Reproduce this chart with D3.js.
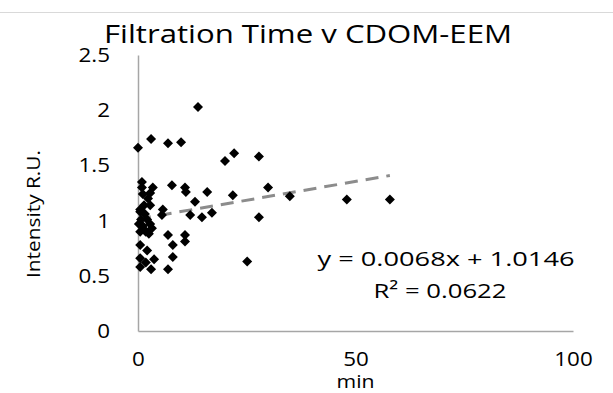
<!DOCTYPE html>
<html><head><meta charset="utf-8">
<script src="https://cdn.jsdelivr.net/npm/d3@7"></script>
<style>body{margin:0;background:#fff}svg{display:block}text{font-family:"Open Sans",sans-serif;fill:#000}</style>
</head><body>
<script>
const title = "Filtration Time v CDOM-EEM";
const xLabel = "min";
const yLabel = "Intensity R.U.";
const xTicks = [0, 50, 100];
const yTicks = [0, 0.5, 1, 1.5, 2, 2.5];
const minutes = [13.8,0.0,3.0,6.9,9.9,20.0,22.1,27.8,0.9,0.9,3.4,2.8,7.8,10.8,11.0,15.9,13.1,21.8,29.9,34.9,48.0,57.9,27.8,25.1,2.8,0.5,5.7,5.5,12.0,14.7,17.0,1.1,6.9,10.8,10.8,8.0,0.5,2.1,8.0,0.5,3.7,1.8,0.5,3.0,6.9,1.8,0.5,1.6,0.7,2.1,0.2,1.1,2.8,1.6,0.5,2.5,3.2,1.4,2.3];
const intensity = [2.03,1.66,1.74,1.70,1.71,1.54,1.61,1.58,1.35,1.30,1.30,1.25,1.32,1.30,1.26,1.26,1.17,1.23,1.30,1.22,1.19,1.19,1.03,0.63,1.14,1.10,1.10,1.05,1.05,1.03,1.07,1.24,0.87,0.87,0.81,0.78,0.78,0.73,0.67,0.66,0.65,0.62,0.58,0.56,0.56,0.90,1.08,1.06,1.01,1.01,0.97,0.95,0.97,0.91,0.90,0.88,0.93,1.14,1.20];
const slope = 0.0068, intercept = 1.0146, r2 = 0.0622;
const eqLines = ["y = 0.0068x + 1.0146", "R² = 0.0622"];

const W = 613, H = 393;
const svg = d3.select("body").append("svg").attr("width", W).attr("height", H);
const x = d3.scaleLinear().domain([0, 100]).range([138, 573]);
const y = d3.scaleLinear().domain([0, 2.5]).range([331, 55]);

svg.append("line").attr("x1", 0).attr("x2", W).attr("y1", 12.5).attr("y2", 12.5)
  .attr("stroke", "#d9d9d9").attr("stroke-width", 1);

const axisColor = "#a6a6a6";
const sx = 1.12;
const gx = svg.append("g").attr("transform", `translate(0,${y(0)})`)
  .call(d3.axisBottom(x).tickValues(xTicks).tickSize(0).tickPadding(21).tickFormat(d3.format("d")));
const gy = svg.append("g").attr("transform", `translate(${x(0)},0)`)
  .call(d3.axisLeft(y).tickValues(yTicks).tickSize(0).tickPadding(28).tickFormat(d => d));
[gx, gy].forEach(g => {
  g.select(".domain").attr("stroke", axisColor).attr("stroke-width", 1.5);
  g.selectAll("text").style("font-size", "20px").attr("fill", "#000")
    .style("font-family", '"Open Sans",sans-serif').attr("transform", `scale(${sx},1)`);
});
gy.selectAll("text").attr("x", -28 / sx);

svg.append("text").attr("x", 308).attr("y", 43).attr("text-anchor", "middle")
  .attr("textLength", 408).attr("lengthAdjust", "spacingAndGlyphs")
  .style("font-size", "25px").text(title);
svg.append("text").attr("x", x(50)).attr("y", 388).attr("text-anchor", "middle")
  .attr("textLength", 38).attr("lengthAdjust", "spacingAndGlyphs")
  .style("font-size", "18px").text(xLabel);
svg.append("text").attr("transform", "translate(40,214) rotate(-90)").attr("text-anchor", "middle")
  .attr("textLength", 128).attr("lengthAdjust", "spacingAndGlyphs")
  .style("font-size", "18px").text(yLabel);

const xmin = d3.min(minutes), xmax = d3.max(minutes);
svg.append("line")
  .attr("x1", x(xmin)).attr("y1", y(intercept + slope * xmin))
  .attr("x2", x(xmax)).attr("y2", y(intercept + slope * xmax))
  .attr("stroke", "#8c8c8c").attr("stroke-width", 3).attr("stroke-dasharray", "13,8");

const pts = minutes.map((m, i) => [m, intensity[i]]);
svg.append("g").selectAll("path").data(pts).join("path")
  .attr("transform", d => `translate(${x(d[0])},${y(d[1])})`)
  .attr("d", "M0,-5L5,0L0,5L-5,0Z").attr("fill", "#000");

svg.append("text").attr("x", 446).attr("y", 266).attr("text-anchor", "middle")
  .attr("textLength", 257).attr("lengthAdjust", "spacingAndGlyphs")
  .style("font-size", "20px").text(eqLines[0]);
svg.append("text").attr("x", 440).attr("y", 298).attr("text-anchor", "middle")
  .attr("textLength", 133).attr("lengthAdjust", "spacingAndGlyphs")
  .style("font-size", "20px").text(eqLines[1]);
</script>
</body></html>
